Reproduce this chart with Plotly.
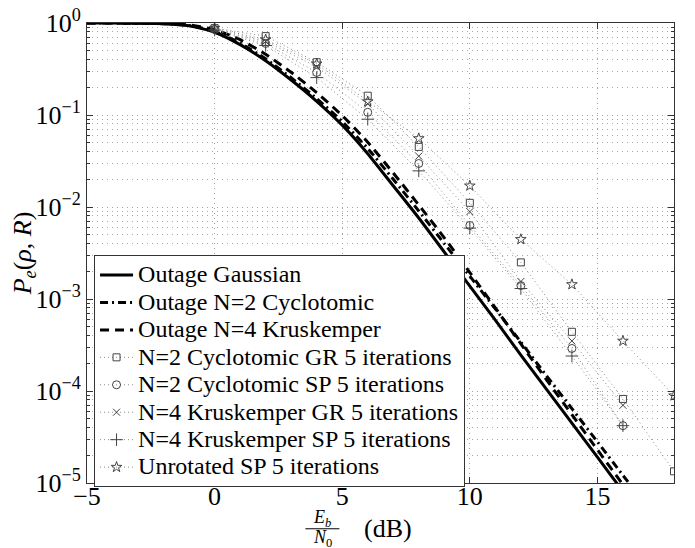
import plotly.graph_objects as go

# ---------------- data ----------------
snr_outage = list(range(-5, 18))
outage_gaussian = [0.9989, 0.9977, 0.9931, 0.9817, 0.933, 0.794, 0.582, 0.389, 0.240, 0.141,
                   0.0776, 0.0380, 0.0170, 0.00759, 0.00324, 0.00138, 5.89e-4, 2.45e-4,
                   1.05e-4, 4.47e-5, 1.91e-5, 8.1e-6, 3.5e-6]
outage_n2_cyclo = [0.9991, 0.9979, 0.9936, 0.983, 0.939, 0.810, 0.604, 0.408, 0.254, 0.151,
                   0.0849, 0.0433, 0.0200, 0.00906, 0.0040, 0.00177, 7.80e-4, 3.40e-4,
                   1.47e-4, 6.44e-5, 2.80e-5, 1.21e-5, 5.3e-6]
outage_n4_krusk = [0.9993, 0.9982, 0.995, 0.986, 0.952, 0.847, 0.659, 0.457, 0.291, 0.175,
                   0.0986, 0.0506, 0.0234, 0.0105, 0.00462, 0.00194, 8.0e-4, 3.25e-4,
                   1.33e-4, 5.52e-5, 2.30e-5, 9.6e-6, 4.1e-6]

snr_sim = [0, 2, 4, 6, 8, 10, 12, 14, 16, 18]
n2_cyclo_gr = [0.88, 0.72, 0.375, 0.162, 0.045, 0.0111, 0.0025, 4.4e-4, 8.2e-5, 1.34e-5]
n2_cyclo_sp = [0.85, 0.60, 0.29, 0.107, 0.0297, 0.0063, 0.0014, 2.9e-4, 4.2e-5]
n4_krusk_gr = [0.86, 0.63, 0.335, 0.132, 0.0357, 0.0089, 0.00155, 3.5e-4, 7.0e-5]
n4_krusk_sp = [0.84, 0.57, 0.255, 0.090, 0.0247, 0.0059, 0.0013, 2.4e-4, 4.2e-5]
unrotated_sp = [0.88, 0.66, 0.36, 0.14, 0.0556, 0.017, 0.00445, 0.00144, 3.5e-4, 8.9e-5]

ytick_vals = [1e-5, 1e-4, 1e-3, 1e-2, 1e-1, 1]
ytick_text = ["10<sup>−5</sup>", "10<sup>−4</sup>", "10<sup>−3</sup>",
              "10<sup>−2</sup>", "10<sup>−1</sup>", "10<sup>0</sup>"]
xtick_vals = [-5, 0, 5, 10, 15]

# ---------------- figure ----------------
FONT = "Liberation Serif, Times New Roman, serif"
LEG_TXT = '<span style="font-size:24px">{}</span>'
fig = go.Figure()

fig.add_trace(go.Scatter(x=snr_outage, y=outage_gaussian, mode="lines",
                         name=LEG_TXT.format("Outage Gaussian"),
                         line=dict(color="black", width=3, shape="spline", smoothing=0.6)))
fig.add_trace(go.Scatter(x=snr_outage, y=outage_n2_cyclo, mode="lines",
                         name=LEG_TXT.format("Outage N=2 Cyclotomic"),
                         line=dict(color="black", width=3, dash="8px,4px,2px,4px",
                                   shape="spline", smoothing=0.6)))
fig.add_trace(go.Scatter(x=snr_outage, y=outage_n4_krusk, mode="lines",
                         name=LEG_TXT.format("Outage N=4 Kruskemper"),
                         line=dict(color="black", width=3, dash="9px,6px", shape="spline", smoothing=0.6)))

sim_series = [
    ("N=2 Cyclotomic GR 5 iterations", n2_cyclo_gr, "square-open", 7),
    ("N=2 Cyclotomic SP 5 iterations", n2_cyclo_sp, "circle-open", 8),
    ("N=4 Kruskemper GR 5 iterations", n4_krusk_gr, "x-thin-open", 7),
    ("N=4 Kruskemper SP 5 iterations", n4_krusk_sp, "cross-thin-open", 9),
    ("Unrotated SP 5 iterations", unrotated_sp, "star-open", 8),
]
for name, vals, sym, size in sim_series:
    fig.add_trace(go.Scatter(
        x=snr_sim[:len(vals)], y=vals, mode="lines+markers", name=LEG_TXT.format(name),
        line=dict(color="#8a8a8a", width=1, dash="1px,3px"),
        marker=dict(symbol=sym, size=size, color="#444444",
                    line=dict(color="#444444", width=1)),
    ))

grid_common = dict(showgrid=True, gridcolor="#a0a0a0", griddash="1px,4px", gridwidth=1)

fig.update_xaxes(
    range=[-5, 18], tickvals=xtick_vals, ticks="inside", ticklen=6, tickcolor="#333",
    showline=True, linecolor="#333", linewidth=1, mirror="ticks", zeroline=False,
    tickfont=dict(family=FONT, size=26, color="black"), automargin=False,
    ticklabelstandoff=-10, ticklabeloverflow="allow",
    **grid_common,
)
fig.update_yaxes(
    type="log", range=[-5, 0], tickmode="array", tickvals=ytick_vals, ticktext=ytick_text,
    ticks="inside", ticklen=6, tickcolor="#333",
    showline=True, linecolor="#333", linewidth=1, mirror="ticks", zeroline=False,
    tickfont=dict(family=FONT, size=26, color="black"), automargin=False,
    ticklabeloverflow="allow",
    minor=dict(dtick="D1", ticks="inside", ticklen=3, tickcolor="#333",
               showgrid=True, gridcolor="#a8a8a8", griddash="1px,4px", gridwidth=1),
    title=dict(text="<i>P<sub>e</sub></i>(<i>ρ</i>, <i>R</i>)",
               font=dict(family=FONT, size=26, color="black"), standoff=4),
    **grid_common,
)

# x-axis title as a fraction E_b / N_0 (dB)
fig.add_annotation(xref="paper", yref="paper", x=0.401, y=-0.099, yanchor="bottom",
                   text="<i>E<sub>b</sub></i>", showarrow=False,
                   font=dict(family=FONT, size=18, color="black"), yshift=-3)
fig.add_annotation(xref="paper", yref="paper", x=0.401, y=-0.100, yanchor="top",
                   text="<i>N</i><sub>0</sub>", showarrow=False,
                   font=dict(family=FONT, size=18, color="black"), yshift=4)
fig.add_annotation(xref="paper", yref="paper", x=0.513, y=-0.0995, yanchor="middle",
                   text="(dB)", showarrow=False,
                   font=dict(family=FONT, size=26, color="black"))
fig.add_shape(type="line", xref="paper", yref="paper", x0=0.372, x1=0.43,
              y0=-0.0995, y1=-0.0995, line=dict(color="black", width=1))

fig.update_layout(
    width=687, height=540,
    margin=dict(l=79, r=21, t=15, b=65),
    paper_bgcolor="white", plot_bgcolor="white",
    font=dict(family=FONT, color="black"),
    legend=dict(x=0.012, y=0.495, xanchor="left", yanchor="top",
                bgcolor="white", bordercolor="#333", borderwidth=1,
                font=dict(family=FONT, size=18.8, color="black"),
                itemwidth=33, tracegroupgap=0),
)

fig.write_html("out.html")
